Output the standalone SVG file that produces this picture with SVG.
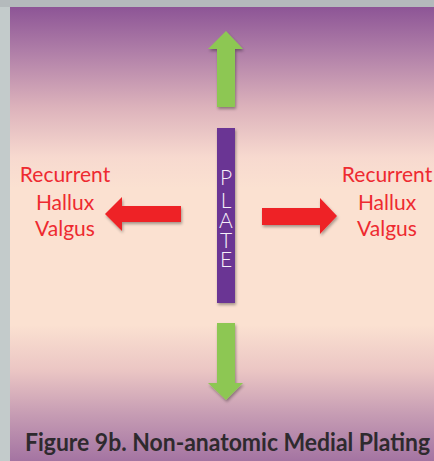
<svg xmlns="http://www.w3.org/2000/svg" width="434" height="461" viewBox="0 0 434 461">
  <defs>
    <linearGradient id="bg" x1="0" y1="7" x2="0" y2="461" gradientUnits="userSpaceOnUse">
      <stop offset="0" stop-color="#8d5596"/>
      <stop offset="0.1" stop-color="#b07fa8"/>
      <stop offset="0.22" stop-color="#dcb2bb"/>
      <stop offset="0.33" stop-color="#f7d9cf"/>
      <stop offset="0.4" stop-color="#fbe1d1"/>
      <stop offset="0.7" stop-color="#fbe1d1"/>
      <stop offset="0.8" stop-color="#ebc6c4"/>
      <stop offset="0.9" stop-color="#c59bb3"/>
      <stop offset="1" stop-color="#a474a2"/>
    </linearGradient>
    <filter id="sh" x="-30%" y="-30%" width="160%" height="160%">
      <feDropShadow dx="1" dy="2" stdDeviation="1.5" flood-color="#000" flood-opacity="0.35"/>
    </filter>
    <style>
      .green { fill: #8dc752; filter: url(#sh); }
      .red { fill: #ee2227; filter: url(#sh); }
      .lbl { font-family: Lato, "Liberation Sans", sans-serif; font-size: 21px; fill: #ee2a30; text-anchor: middle; }
      .plate-t { font-family: Lato, "Liberation Sans", sans-serif; font-size: 21px; font-weight: 300; fill: #f6f0fa; text-anchor: middle; }
      .cap { font-family: Lato, "Liberation Sans", sans-serif; font-size: 24px; font-weight: bold; fill: #2e2a2e; }
    </style>
  </defs>
  <rect x="0" y="0" width="434" height="461" fill="#c3cbcb"/>
  <rect x="0" y="0" width="434" height="7" fill="#b4babc"/>
  <rect x="10" y="7" width="424" height="454" fill="url(#bg)"/>

  <g id="connectors">
    <path id="arrow-up" class="green" d="M217,107 L217,49 L208,49 L226,31 L243,49 L235,49 L235,107 Z"/>
    <path id="arrow-down" class="green" d="M217,323 L235,323 L235,383 L243,383 L226,400 L208,383 L217,383 Z"/>
    <path id="arrow-left" class="red" d="M181,206 L122,206 L122,197 L105,214 L122,231 L122,222 L181,222 Z"/>
    <path id="arrow-right" class="red" d="M262,208 L320,208 L320,198 L337,216 L320,234 L320,225 L262,225 Z"/>
  </g>

  <g id="plate">
    <rect x="217" y="128" width="18" height="175" fill="#6a3594" filter="url(#sh)"/>
    <text class="plate-t"><tspan x="226" y="185">P</tspan><tspan x="226" y="208">L</tspan><tspan x="226" y="228">A</tspan><tspan x="226" y="248">T</tspan><tspan x="226" y="267">E</tspan></text>
  </g>

  <g id="label-left">
    <text class="lbl" x="65" y="182">Recurrent</text>
    <text class="lbl" x="65" y="210">Hallux</text>
    <text class="lbl" x="65" y="236">Valgus</text>
  </g>

  <g id="label-right">
    <text class="lbl" x="387" y="182">Recurrent</text>
    <text class="lbl" x="387" y="210">Hallux</text>
    <text class="lbl" x="387" y="236">Valgus</text>
  </g>

  <g id="caption">
    <text class="cap" x="25" y="451" textLength="405" lengthAdjust="spacingAndGlyphs">Figure 9b. Non-anatomic Medial Plating</text>
  </g>
</svg>
